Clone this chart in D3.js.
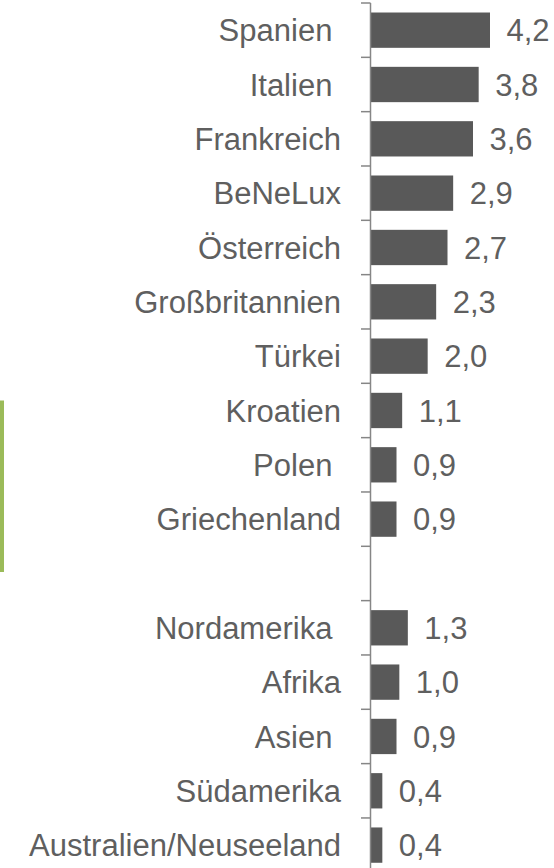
<!DOCTYPE html>
<html>
<head>
<meta charset="utf-8">
<script src="https://cdn.jsdelivr.net/npm/d3@7"></script>
<style>
  body { margin: 0; background: #fff; }
  svg { display: block; }
  text { font-family: "Liberation Sans", Arial, sans-serif; white-space: pre; }
</style>
</head>
<body>
<div class="chart"></div>
<script>
var svgWidth = 554;
var svgHeight = 868;

// categories (empty entry = gap between Europe and the rest of the world)
var categories = ["Spanien ", "Italien ", "Frankreich", "BeNeLux", "Österreich", "Großbritannien",
  "Türkei", "Kroatien", "Polen ", "Griechenland", "",
  "Nordamerika ", "Afrika", "Asien ", "Südamerika", "Australien/Neuseeland"];
var values = [4.2, 3.8, 3.6, 2.9, 2.7, 2.3, 2.0, 1.1, 0.9, 0.9, null, 1.3, 1.0, 0.9, 0.4, 0.4];

var axisX = 370.5;
var de = d3.formatLocale({decimal: ",", thousands: ".", grouping: [3], currency: ["", " €"]});
var fmt = de.format(".1f");

var svg = d3.select(".chart")
  .append("svg")
  .attr("width", svgWidth)
  .attr("height", svgHeight);

var y = d3.scaleBand()
  .domain(d3.range(categories.length))
  .range([3, 3 + 16 * 54.33])
  .paddingInner(0.35)
  .paddingOuter(0.175);

var x = d3.scaleLinear()
  .domain([0, 4.2])
  .range([371, 490]);

var data = categories.map(function(c, i) { return {label: c, value: values[i], i: i}; });

// green marker on the left
svg.append("rect")
  .attr("x", 0).attr("y", 400.5)
  .attr("width", 4).attr("height", 171.5)
  .attr("fill", "#9bbb59");

// bars
svg.selectAll(".bar")
  .data(data.filter(function(d) { return d.value != null; }))
  .enter().append("rect")
  .attr("class", "bar")
  .attr("x", x(0))
  .attr("y", function(d) { return y(d.i); })
  .attr("width", function(d) { return x(d.value) - x(0); })
  .attr("height", y.bandwidth())
  .attr("fill", "#595959");

// axis line + ticks on band boundaries
var step = y.step();
var r0 = y.range()[0];
svg.append("line")
  .attr("x1", axisX).attr("x2", axisX)
  .attr("y1", r0).attr("y2", svgHeight)
  .attr("stroke", "#868686").attr("stroke-width", 1.5);

svg.selectAll(".tick")
  .data(d3.range(categories.length + 1))
  .enter().append("line")
  .attr("class", "tick")
  .attr("x1", axisX - 9.5).attr("x2", axisX)
  .attr("y1", function(k) { return r0 + k * step; })
  .attr("y2", function(k) { return r0 + k * step; })
  .attr("stroke", "#868686").attr("stroke-width", 1.5);

// category labels
svg.selectAll(".cat")
  .data(data.filter(function(d) { return d.label !== ""; }))
  .enter().append("text")
  .attr("class", "cat")
  .attr("x", axisX - 29.5)
  .attr("y", function(d) { return y(d.i) + y.bandwidth() / 2; })
  .attr("dy", "0.36em")
  .attr("text-anchor", "end")
  .attr("font-size", 31)
  .attr("fill", "#5f5f5f")
  .text(function(d) { return d.label; });

// value labels
svg.selectAll(".val")
  .data(data.filter(function(d) { return d.value != null; }))
  .enter().append("text")
  .attr("class", "val")
  .attr("x", function(d) { return x(d.value) + 16.5; })
  .attr("y", function(d) { return y(d.i) + y.bandwidth() / 2; })
  .attr("dy", "0.36em")
  .attr("font-size", 31)
  .attr("fill", "#5f5f5f")
  .text(function(d) { return fmt(d.value); });
</script>
</body>
</html>
